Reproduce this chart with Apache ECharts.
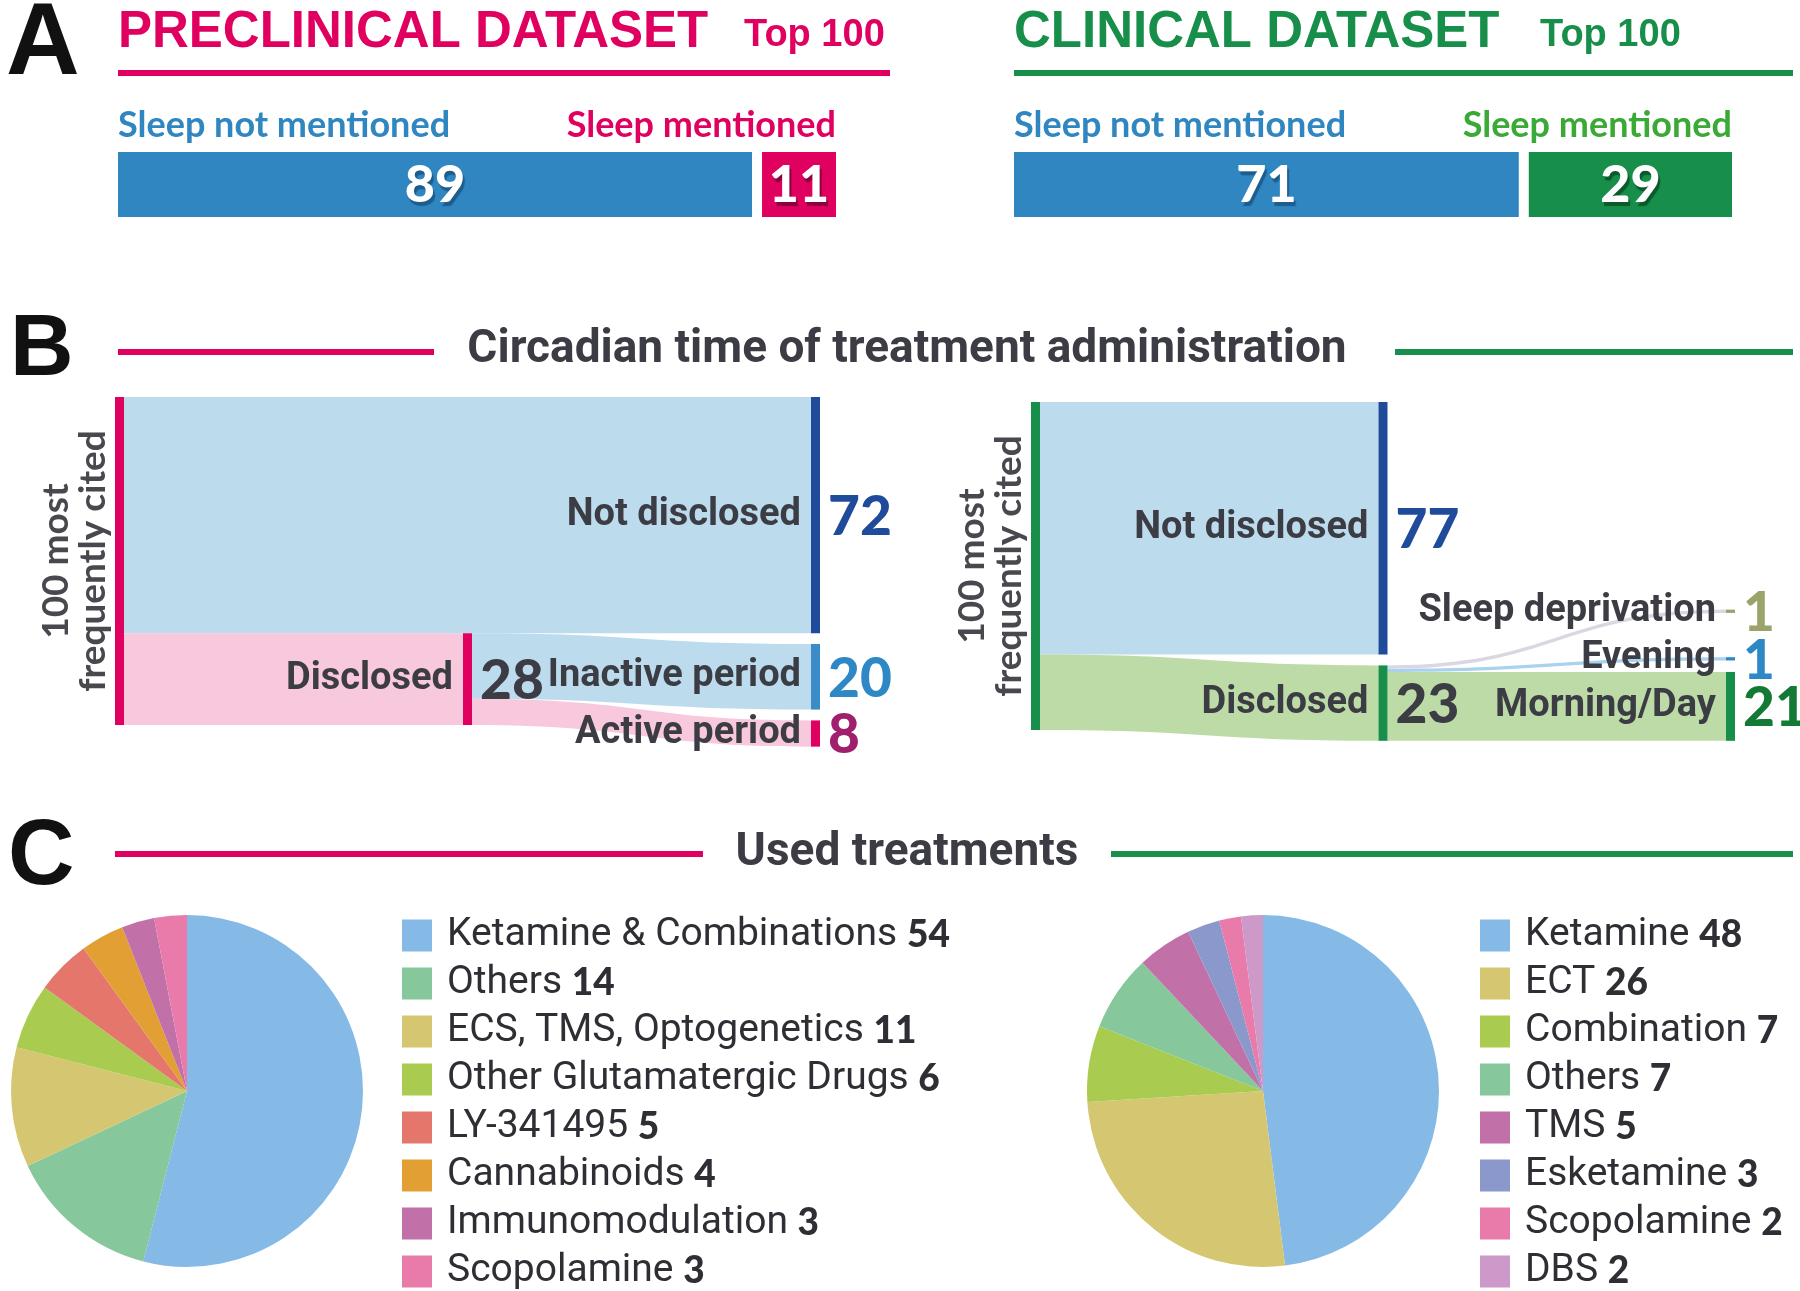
<!DOCTYPE html>
<html>
<head>
<meta charset="utf-8">
<script src="https://cdn.jsdelivr.net/npm/echarts@6/dist/echarts.min.js"></script>
<style>
  html, body { margin: 0; padding: 0; background: #fff; }
  #chart { width: 1800px; height: 1291px; }
</style>
</head>
<body>
<div id="chart"></div>
<script>
// --- A: is sleep mentioned in the top 100 papers
const sleepCategories = ['Sleep not mentioned', 'Sleep mentioned'];
const preclinicalSleep = [89, 11];
const clinicalSleep = [71, 29];

// --- B: circadian time of treatment administration (flows)
const ROOT = '100 most frequently cited';
const preFlowFrom = [ROOT, ROOT, 'Disclosed', 'Disclosed'];
const preFlowTo = ['Not disclosed', 'Disclosed', 'Inactive period', 'Active period'];
const preFlowValues = [72, 28, 20, 8];

const cliFlowFrom = [ROOT, ROOT, 'Disclosed', 'Disclosed', 'Disclosed'];
const cliFlowTo = ['Not disclosed', 'Disclosed', 'Sleep deprivation', 'Evening', 'Morning/Day'];
const cliFlowValues = [77, 23, 1, 1, 21];

// --- C: used treatments
const preTreatments = ['Ketamine & Combinations', 'Others', 'ECS, TMS, Optogenetics', 'Other Glutamatergic Drugs',
    'LY-341495', 'Cannabinoids', 'Immunomodulation', 'Scopolamine'];
const preTreatmentCounts = [54, 14, 11, 6, 5, 4, 3, 3];
const cliTreatments = ['Ketamine', 'ECT', 'Combination', 'Others', 'TMS', 'Esketamine', 'Scopolamine', 'DBS'];
const cliTreatmentCounts = [48, 26, 7, 7, 5, 3, 2, 2];

// styles
const PINK = '#e0005f', GREEN = '#178f4a', BLUE = '#2f86c0', DARK = '#3c3c44', NAVY = '#1f4b9a';
const LABEL = "Roboto, 'Liberation Sans', sans-serif";
const HEAVY = "Lato, 'Liberation Sans', sans-serif";
const preColors = ['#85b9e6', '#86c79c', '#d5c772', '#a9cb4f', '#e5766c', '#e29f33', '#c170a8', '#e97bab'];
const cliColors = ['#85b9e6', '#d5c772', '#a9cb4f', '#86c79c', '#c170a8', '#8a98cc', '#e97bab', '#cc99c8'];
const preNodeColors = {[ROOT]: PINK, 'Not disclosed': NAVY, 'Disclosed': PINK, 'Inactive period': '#3a8dc8', 'Active period': PINK};
const preValueColors = {'Not disclosed': NAVY, 'Disclosed': DARK, 'Inactive period': '#2f88c6', 'Active period': '#a1206e'};
const preLinkColors = ['#bcdcee', '#f8c8dc', '#bcdcee', '#f8c8dc'];
const cliNodeColors = {[ROOT]: GREEN, 'Not disclosed': NAVY, 'Disclosed': GREEN, 'Sleep deprivation': '#9ba36b', 'Evening': '#2f88c6', 'Morning/Day': GREEN};
const cliValueColors = {'Not disclosed': NAVY, 'Disclosed': DARK, 'Sleep deprivation': '#9ba36b', 'Evening': '#2f88c6', 'Morning/Day': '#137a35'};
const cliLinkColors = ['#bcdcee', '#bcdba6', '#d9d8e2', '#a8d2ee', '#bcdba6'];

const NODE_W = 9;      // node bar width, px
const GAP = 3.3;       // min gap between nodes, in flow units
const MIN_STEP = 14.5; // min distance between node centres (room for labels), flow units
const Y_MAX = 110;
const UNIT_PX = 3.28;

const chart = echarts.init(document.getElementById('chart'), null, {renderer: 'canvas'});

function splitBar(values, fills, nameColors, shadows, gridIndex) {
    let acc = 0;
    const data = values.map(v => { const d = [acc, acc + v]; acc += v; return d; });
    return {
        type: 'custom', xAxisIndex: gridIndex, yAxisIndex: gridIndex, silent: true, data: data,
        renderItem: function (params, api) {
            const i = params.dataIndex, n = values.length;
            const p0 = api.coord([api.value(0), 0]);
            const p1 = api.coord([api.value(1), 0]);
            const h = api.size([0, 1])[1];
            const x0 = p0[0] + (i > 0 ? 5 : 0);
            const x1 = p1[0] - (i < n - 1 ? 5 : 0);
            const y = p0[1] - h / 2;
            return {
                type: 'group',
                children: [
                    {type: 'rect', shape: {x: x0, y: y, width: x1 - x0, height: h}, style: {fill: fills[i]}},
                    {type: 'text', x: (x0 + x1) / 2, y: y + h / 2 + 1, style: {
                        text: String(values[i]), fill: '#fff', font: '900 52px ' + HEAVY,
                        align: 'center', verticalAlign: 'middle',
                        textShadowColor: shadows[i], textShadowOffsetX: 2, textShadowOffsetY: 4, textShadowBlur: 1}},
                    {type: 'text', x: i === 0 ? x0 : x1, y: y - 27, style: {
                        text: sleepCategories[i], fill: nameColors[i], font: 'bold 36px ' + HEAVY,
                        align: i === 0 ? 'left' : 'right', verticalAlign: 'middle'}}
                ]
            };
        }
    };
}

// stack the flow nodes column by column; a node sits where its flow leaves the source,
// the biggest node of a column stays put and the others are pushed away from it
function layoutFlows(from, to, values, sinksRight) {
    const names = [];
    from.forEach((f, i) => [f, to[i]].forEach(n => { if (names.indexOf(n) < 0) names.push(n); }));
    const depth = {[names[0]]: 0}, outSum = {}, inSum = {};
    names.forEach(n => { outSum[n] = 0; inSum[n] = 0; });
    from.forEach((f, i) => { depth[to[i]] = depth[f] + 1; outSum[f] += values[i]; inSum[to[i]] += values[i]; });
    const maxDepth = Math.max(...names.map(n => depth[n]));
    if (sinksRight) names.forEach(n => { if (outSum[n] === 0) depth[n] = maxDepth; });
    const size = {};
    names.forEach(n => size[n] = Math.max(outSum[n], inSum[n]));

    const y0 = {[names[0]]: 0};
    const srcOffset = values.map((v, i) => {
        let off = 0;
        for (let j = 0; j < i; j++) if (from[j] === from[i]) off += values[j];
        return off;
    });
    for (let d = 1; d <= maxDepth; d++) {
        const col = names.filter(n => depth[n] === d);
        const natural = col.map(n => { const i = to.indexOf(n); return y0[from[i]] + srcOffset[i]; });
        let k = 0;
        col.forEach((n, i) => { if (size[n] > size[col[k]]) k = i; });
        y0[col[k]] = natural[k];
        for (let i = k + 1; i < col.length; i++) {
            const p = col[i - 1], n = col[i];
            y0[n] = Math.max(natural[i], y0[p] + size[p] + GAP, y0[p] + size[p] / 2 + MIN_STEP - size[n] / 2);
        }
        for (let i = k - 1; i >= 0; i--) {
            const q = col[i + 1], n = col[i];
            y0[n] = Math.min(natural[i], y0[q] - GAP - size[n], y0[q] + size[q] / 2 - MIN_STEP - size[n] / 2);
        }
    }
    const nodes = names.map((n, i) => [depth[n], y0[n], y0[n] + size[n], i]);
    const inUsed = {};
    names.forEach(n => inUsed[n] = 0);
    const links = values.map((v, i) => {
        const s = y0[from[i]] + srcOffset[i];
        const t = y0[to[i]] + inUsed[to[i]];
        inUsed[to[i]] += v;
        return [depth[from[i]], s, s + v, depth[to[i]], t, t + v, i];
    });
    return {names: names, nodes: nodes, links: links, maxDepth: maxDepth, size: size};
}

function flowSeries(layout, gridIndex, nodeColors, valueColors, linkColors) {
    const linkSeries = {
        type: 'custom', xAxisIndex: gridIndex, yAxisIndex: gridIndex, silent: true, clip: false,
        data: layout.links,
        renderItem: function (params, api) {
            const a0 = api.coord([api.value(0), api.value(1)]), a1 = api.coord([api.value(0), api.value(2)]);
            const b0 = api.coord([api.value(3), api.value(4)]), b1 = api.coord([api.value(3), api.value(5)]);
            const xs = a0[0] + NODE_W, xt = b0[0], xm = (xs + xt) / 2;
            const d = 'M' + xs + ',' + a0[1] + ' C' + xm + ',' + a0[1] + ' ' + xm + ',' + b0[1] + ' ' + xt + ',' + b0[1] +
                ' L' + xt + ',' + b1[1] + ' C' + xm + ',' + b1[1] + ' ' + xm + ',' + a1[1] + ' ' + xs + ',' + a1[1] + ' Z';
            return {type: 'path', shape: {pathData: d}, style: {fill: linkColors[api.value(6)]}};
        }
    };
    const nodeSeries = {
        type: 'custom', xAxisIndex: gridIndex, yAxisIndex: gridIndex, silent: true, clip: false,
        data: layout.nodes,
        renderItem: function (params, api) {
            const name = layout.names[api.value(3)];
            const top = api.coord([api.value(0), api.value(1)]);
            const bot = api.coord([api.value(0), api.value(2)]);
            const x = top[0], yc = (top[1] + bot[1]) / 2;
            const children = [{type: 'rect', shape: {x: x, y: top[1], width: NODE_W, height: bot[1] - top[1]},
                style: {fill: nodeColors[name]}}];
            if (api.value(0) === 0) {
                children.push({type: 'text', x: x - 40, y: yc, rotation: Math.PI / 2, style: {
                    text: name.replace('most ', 'most\n'), font: 'bold 37px ' + HEAVY, lineHeight: 37,
                    fill: '#48484f', align: 'center', verticalAlign: 'middle'}});
            } else {
                children.push({type: 'text', x: x - 10, y: yc, style: {
                    text: name, font: 'bold 38px ' + LABEL, fill: DARK, align: 'right', verticalAlign: 'middle'}});
                children.push({type: 'text', x: x + NODE_W + 8, y: yc + 2, style: {
                    text: String(layout.size[name]), font: '900 55px ' + HEAVY, fill: valueColors[name],
                    align: 'left', verticalAlign: 'middle'}});
            }
            return {type: 'group', children: children};
        }
    };
    return [linkSeries, nodeSeries];
}

function legendFor(names, counts, colors, left) {
    return {
        orient: 'vertical', left: left, top: 911, height: 420,
        itemWidth: 30, itemHeight: 32, itemGap: 9, icon: 'rect',
        selectedMode: false,
        data: names.map((n, i) => ({name: n, itemStyle: {color: colors[i]}})),
        formatter: name => '{n|' + name + ' }{v|' + counts[names.indexOf(name)] + '}',
        textStyle: {
            padding: [0, 0, 0, 10],
            rich: {
                n: {fontFamily: LABEL, fontSize: 39, color: '#2e2e34'},
                v: {fontFamily: HEAVY, fontWeight: 900, fontSize: 37, color: '#2e2e34'}
            }
        }
    };
}

function hline(x1, x2, y, color) {
    return {type: 'line', shape: {x1: x1, y1: y, x2: x2, y2: y}, style: {stroke: color, lineWidth: 6}, silent: true};
}
function txt(x, y, text, font, fill, align) {
    return {type: 'text', x: x, y: y, style: {text: text, font: font, fill: fill, align: align || 'left', verticalAlign: 'middle'}, silent: true};
}

const preLayout = layoutFlows(preFlowFrom, preFlowTo, preFlowValues, true);
const cliLayout = layoutFlows(cliFlowFrom, cliFlowTo, cliFlowValues, false);

const option = {
    animation: false,
    grid: [
        {left: 118, top: 152, width: 718, height: 65},
        {left: 1014, top: 152, width: 718, height: 65},
        {left: 115, top: 397, width: 696, height: Y_MAX * UNIT_PX},
        {left: 1031, top: 402, width: 695, height: Y_MAX * UNIT_PX}
    ],
    xAxis: [
        {type: 'value', gridIndex: 0, min: 0, max: 100, show: false},
        {type: 'value', gridIndex: 1, min: 0, max: 100, show: false},
        {type: 'value', gridIndex: 2, min: 0, max: preLayout.maxDepth, show: false},
        {type: 'value', gridIndex: 3, min: 0, max: cliLayout.maxDepth, show: false}
    ],
    yAxis: [
        {type: 'category', gridIndex: 0, data: ['top100'], show: false},
        {type: 'category', gridIndex: 1, data: ['top100'], show: false},
        {type: 'value', gridIndex: 2, min: 0, max: Y_MAX, inverse: true, show: false},
        {type: 'value', gridIndex: 3, min: 0, max: Y_MAX, inverse: true, show: false}
    ],
    legend: [
        legendFor(preTreatments, preTreatmentCounts, preColors, 397),
        legendFor(cliTreatments, cliTreatmentCounts, cliColors, 1475)
    ],
    graphic: [
        txt(6, 46, 'A', '900 102px "Liberation Sans", sans-serif', '#111'),
        txt(118, 33, 'PRECLINICAL DATASET', 'bold 51px "Liberation Sans", sans-serif', PINK),
        txt(744, 36, 'Top 100', 'bold 38px "Liberation Sans", sans-serif', PINK),
        hline(118, 890, 73, PINK),
        txt(1014, 33, 'CLINICAL DATASET', 'bold 51px "Liberation Sans", sans-serif', GREEN),
        txt(1540, 36, 'Top 100', 'bold 38px "Liberation Sans", sans-serif', GREEN),
        hline(1014, 1793, 73, GREEN),

        txt(10, 351, 'B', '900 88px "Liberation Sans", sans-serif', '#111'),
        hline(118, 434, 352, PINK),
        txt(907, 350, 'Circadian time of treatment administration', 'bold 46px ' + LABEL, DARK, 'center'),
        hline(1395, 1793, 352, GREEN),

        txt(8, 859, 'C', '900 92px "Liberation Sans", sans-serif', '#111'),
        hline(115, 703, 854, PINK),
        txt(907, 853, 'Used treatments', 'bold 46px ' + LABEL, DARK, 'center'),
        hline(1111, 1793, 854, GREEN)
    ],
    series: [
        splitBar(preclinicalSleep, [BLUE, PINK], [BLUE, PINK], ['#1d5d8e', '#8a0040'], 0),
        splitBar(clinicalSleep, [BLUE, GREEN], [BLUE, '#3aa935'], ['#1d5d8e', '#0b5a2b'], 1),
        ...flowSeries(preLayout, 2, preNodeColors, preValueColors, preLinkColors),
        ...flowSeries(cliLayout, 3, cliNodeColors, cliValueColors, cliLinkColors),
        {
            type: 'pie', center: [187, 1091], radius: 176, startAngle: 90, clockwise: true,
            silent: true, label: {show: false}, labelLine: {show: false},
            itemStyle: {borderWidth: 0},
            data: preTreatments.map((n, i) => ({name: n, value: preTreatmentCounts[i], itemStyle: {color: preColors[i]}}))
        },
        {
            type: 'pie', center: [1263, 1091], radius: 176, startAngle: 90, clockwise: true,
            silent: true, label: {show: false}, labelLine: {show: false},
            itemStyle: {borderWidth: 0},
            data: cliTreatments.map((n, i) => ({name: n, value: cliTreatmentCounts[i], itemStyle: {color: cliColors[i]}}))
        }
    ]
};

chart.setOption(option);
</script>
</body>
</html>
